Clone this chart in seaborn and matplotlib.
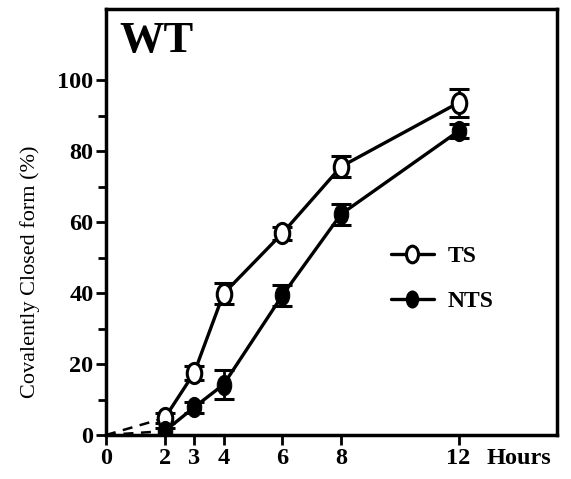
import numpy as np
import pandas as pd
import matplotlib
matplotlib.use("Agg")
import matplotlib.pyplot as plt
from matplotlib.path import Path
from matplotlib.transforms import Affine2D, blended_transform_factory
from matplotlib.lines import Line2D
import seaborn as sns

hours = [2, 3, 4, 6, 8, 12]
ts_values = [4.8, 17.5, 39.8, 56.8, 75.6, 93.6]
ts_err = [1.5, 2.0, 3.0, 1.8, 3.0, 4.0]
nts_values = [1.1, 7.8, 14.2, 39.3, 62.2, 85.6]
nts_err = [1.0, 1.5, 4.0, 3.0, 3.0, 2.0]
xticks = [0, 2, 3, 4, 6, 8, 12]
yticks = [0, 20, 40, 60, 80, 100]

sns.set_theme(style="ticks")
plt.rcParams['font.family'] = ['Liberation Serif', 'DejaVu Serif']
plt.rcParams['text.color'] = 'black'
plt.rcParams['axes.labelcolor'] = 'black'
plt.rcParams['xtick.color'] = 'black'
plt.rcParams['ytick.color'] = 'black'

df = pd.DataFrame({
    "Hours": hours * 2,
    "value": ts_values + nts_values,
    "series": ["TS"] * len(hours) + ["NTS"] * len(hours),
})

ellipse = Path.unit_circle().transformed(Affine2D().scale(0.72, 1.0))

fig = plt.figure(figsize=(5.71, 4.79), dpi=100)
ax = fig.add_axes([106 / 571, 1 - 435 / 479, (557 - 106) / 571, (435 - 9) / 479])

# dashed extrapolation to origin
ax.plot([0, hours[0]], [0, ts_values[0]], ls=(0, (4, 3)), color="black", lw=1.8, zorder=2)
ax.plot([0, hours[0]], [0, nts_values[0]], ls=(0, (4, 3)), color="black", lw=1.8, zorder=2)

sns.lineplot(data=df, x="Hours", y="value", hue="series", style="series",
             palette={"TS": "black", "NTS": "black"},
             markers={"TS": ellipse, "NTS": ellipse}, dashes=False,
             markersize=14.5, linewidth=2.4, ax=ax, legend=False, zorder=3)

lines = ax.get_lines()
lines[2].set_markerfacecolor("white")
lines[2].set_markeredgecolor("black")
lines[2].set_markeredgewidth(2.2)
lines[3].set_markerfacecolor("black")
lines[3].set_markeredgecolor("black")

ax.errorbar(hours, ts_values, yerr=ts_err, fmt="none", ecolor="black",
            elinewidth=2, capsize=7, capthick=2.2, zorder=2)
ax.errorbar(hours, nts_values, yerr=nts_err, fmt="none", ecolor="black",
            elinewidth=2, capsize=7, capthick=2.2, zorder=2)

ax.set_xlim(0, 15.35)
ax.set_ylim(0, 120)
ax.set_xticks(xticks)
ax.set_xticklabels([str(t) for t in xticks])
ax.set_yticks(yticks)
ax.set_yticklabels([str(t) for t in yticks])
ax.set_yticks([10, 30, 50, 70, 90], minor=True)
ax.tick_params(axis="both", which="major", direction="out", length=7, width=2,
               labelsize=17.5, color="black", labelcolor="black", pad=2)
ax.tick_params(axis="y", which="minor", direction="out", length=6, width=2, color="black")
for lab in ax.get_xticklabels() + ax.get_yticklabels():
    lab.set_fontweight("bold")
for sp in ax.spines.values():
    sp.set_linewidth(2.5)
    sp.set_color("black")
    sp.set_visible(True)
ax.set_xlabel("")
ax.set_ylabel("")

trans = blended_transform_factory(ax.transData, ax.transAxes)
ax.text(12.95, -12.5 / 426, "Hours", ha="left", va="top", fontsize=17.5, fontweight="bold",
        color="black", transform=trans, clip_on=False)
ax.text(0.45, 116.5, "WT", ha="left", va="top", fontsize=32, fontweight="bold", color="black")
fig.text(30 / 571, 1 - 272 / 479, "Covalently Closed form (%)", rotation=90,
         ha="center", va="center", fontsize=16, color="black")

handles = [
    Line2D([], [], color="black", lw=2.4, marker=ellipse, markersize=12,
           markerfacecolor="white", markeredgecolor="black", markeredgewidth=2.2),
    Line2D([], [], color="black", lw=2.4, marker=ellipse, markersize=12,
           markerfacecolor="black", markeredgecolor="black"),
]
leg = ax.legend(handles, ["TS", "NTS"], loc="upper left", bbox_to_anchor=(0.585, 0.495),
                frameon=False, handlelength=1.8, handletextpad=0.6, labelspacing=1.0,
                prop={"family": "Liberation Serif", "weight": "bold", "size": 17})
for t in leg.get_texts():
    t.set_color("black")

fig.savefig("out.png", dpi=100, facecolor="white")
